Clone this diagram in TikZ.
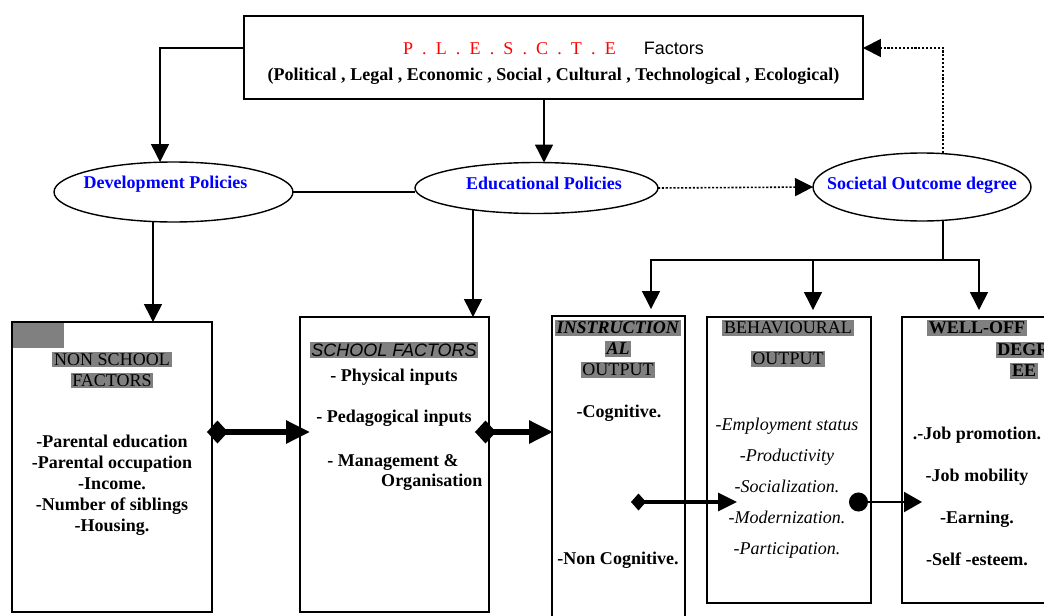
\documentclass[tikz,border=0pt]{standalone}
\usepackage{fontspec}
\setmainfont{Liberation Serif}
\setsansfont{Liberation Sans}
\usepackage{xcolor}
\usetikzlibrary{arrows.meta,shapes.geometric}

\newcommand{\basefont}{\fontsize{10.25}{12}\selectfont}
\newcommand{\hilite}[1]{{\setlength{\fboxsep}{1pt}\colorbox{black!50}{#1}}}

\begin{document}
\begin{tikzpicture}[x=0.02cm,y=-0.02cm,font=\basefont,line width=0.8pt,
  frame/.style={draw,rectangle,inner sep=0pt,outer sep=0pt},
  policy/.style={draw,ellipse,inner xsep=-15pt,inner ysep=0pt,outer sep=0pt,text=blue,font=\basefont\bfseries},
  txt/.style={inner sep=0pt},
  btxt/.style={inner sep=0pt,font=\basefont\bfseries},
  arr/.style={-{Triangle[length=0.36cm,width=0.36cm]}},
  dotarr/.style={dash pattern=on 1.2pt off 1pt,line width=0.9pt,-{Triangle[length=0.36cm,width=0.36cm]}},
  bigarr/.style={line width=3.2pt,{Diamond[length=0.42cm,width=0.46cm]}-{Triangle[length=0.48cm,width=0.44cm]}},
  midarr/.style={line width=1.8pt,{Diamond[length=0.3cm,width=0.34cm]}-{Triangle[length=0.38cm,width=0.36cm]}},
  dotend/.style={line width=1.2pt,{Circle[length=0.38cm]}-{Triangle[length=0.36cm,width=0.4cm]}}]

\useasboundingbox (0,0) rectangle (1044,615);
\clip (0,0) rectangle (1044,615);

% top
\node[frame,minimum width=12.38cm,minimum height=1.66cm,align=center] (FactorsTop) at (553.5,57.5)
{\rule{0pt}{13.8pt}{\color{red}\spaceskip=5.2pt P . L . E . S . C . T . E}\hspace{16pt}\textsf{Factors}\\[2.7pt]\textbf{(Political , Legal , Economic , Social , Cultural , Technological , Ecological)}};

% policies
\node[policy,minimum width=4.78cm,minimum height=1.2cm,text depth=11.4pt] (PolicyDev) at (173.5,192) {Development Policies\hspace*{0.32cm}};
\node[policy,minimum width=4.86cm,minimum height=1.02cm,text depth=5.8pt] (PolicyEdu) at (536.5,188) {\hspace*{0.3cm}Educational Policies};
\node[policy,minimum width=4.36cm,minimum height=1.36cm,text depth=4.6pt] (OutcomeSoc) at (922,187) {Societal Outcome degree};

% boxes
\fill[black!50] (12,322) rectangle (64,348);
\node[frame,minimum width=4cm,minimum height=5.8cm] (BoxNonSchool) at (112,467) {};
\node[frame,minimum width=3.78cm,minimum height=5.9cm] (BoxSchool) at (394.5,464.5) {};
\node[frame,minimum width=2.66cm,minimum height=6.28cm] (BoxInstr) at (618.5,473) {};
\node[frame,minimum width=3.28cm,minimum height=5.72cm] (BoxBehav) at (789,460) {};
\node[frame,minimum width=3.16cm,minimum height=5.72cm] (BoxWell) at (981,460) {};

% non school
\node[txt,align=center] (TitleNonSchool) at (112,370) {\hilite{NON SCHOOL}\\\hilite{FACTORS}};
\node[btxt,align=center] (ListNonSchool) at (112,485) {-Parental education\\-Parental occupation\\-Income.\\-Number of siblings\\-Housing.};

% school
\node[txt] (TitleSchool) at (394,350) {\hilite{\sffamily\itshape SCHOOL FACTORS}};
\node[btxt] (SchoolA) at (394,377) {- Physical inputs};
\node[btxt] (SchoolB) at (394,418) {- Pedagogical inputs};
\node[btxt] (SchoolC) at (393,462) {- Management \&};
\node[btxt,anchor=east] (SchoolD) at (483,482) {Organisation};

% instructional
\node[txt,align=center] (TitleInstr) at (618,349) {\hilite{\textbf{\textit{INSTRUCTION}}}\\\hilite{\textbf{\textit{AL}}}\\\hilite{OUTPUT}};
\node[btxt] (InstrA) at (619,413) {-Cognitive.};
\node[btxt] (InstrB) at (618,560) {-Non Cognitive.};

% behavioural
\node[txt,align=center] (TitleBehav) at (788,343.5) {\hilite{BEHAVIOURAL}\\[5.6pt]\hilite{OUTPUT}};
\node[txt,align=center,font=\basefont\itshape] (ListBehav) at (787,488) {-Employment status\\[5.6pt]-Productivity\\[5.6pt]-Socialization.\\[5.6pt]-Modernization.\\[5.6pt]-Participation.};

% well-off
\node[txt] (TitleWell) at (977,328) {\hilite{\textbf{WELL-OFF}}};
\node[txt,anchor=west] (TitleWellB) at (995,350) {\hilite{\textbf{DEGR}}};
\node[txt] (TitleWellC) at (1024,371) {\hilite{\textbf{EE}}};
\node[btxt,align=center] (ListWell) at (977,496.5) {.-Job promotion.\\[12pt]-Job mobility\\[12pt]-Earning.\\[12pt]-Self -esteem.};

% connectors
\draw[arr] (FactorsTop.west |- 0,48) -| (PolicyDev.north -| 160,0);
\draw[arr] (FactorsTop.south -| 544,0) -- (PolicyEdu.north -| 544,0);
\draw (PolicyDev.east) -- (PolicyDev.east -| PolicyEdu.west);
\draw[dotarr] (PolicyEdu.east) -- (OutcomeSoc.west);
\draw[dotarr] (OutcomeSoc.north -| 943,0) |- (FactorsTop.east |- 0,48);

\coordinate (Split) at (943,260);
\draw (OutcomeSoc.south -| Split) -- (Split);
\draw[arr,shorten >=0.14cm] (Split) -| (BoxInstr.north -| 651,0);
\draw[arr,shorten >=0.14cm] (Split) -| (BoxBehav.north -| 813,0);
\draw[arr,shorten >=0.14cm] (Split) -| (BoxWell.north -| 979,0);

\draw[arr] (PolicyDev.south -| 153,0) -- (BoxNonSchool.north -| 153,0);
\draw[arr,shorten <=-0.075cm] (PolicyEdu.south -| 473,0) -- (BoxSchool.north -| 473,0);

\draw[bigarr,shorten <=-0.1cm,shorten >=-0.2cm] (BoxNonSchool.east |- 0,432) -- (BoxSchool.west |- 0,432);
\draw[bigarr,shorten <=-0.28cm,shorten >=-0.02cm] (BoxSchool.east |- 0,432) -- (BoxInstr.west |- 0,432);
\draw[midarr,shorten <=-1.08cm,shorten >=-0.6cm] (BoxInstr.east |- 0,502) -- (BoxBehav.west |- 0,502);
\draw[dotend,shorten <=-0.44cm,shorten >=-0.4cm] (BoxBehav.east |- 0,502) -- (BoxWell.west |- 0,502);

\end{tikzpicture}
\end{document}
